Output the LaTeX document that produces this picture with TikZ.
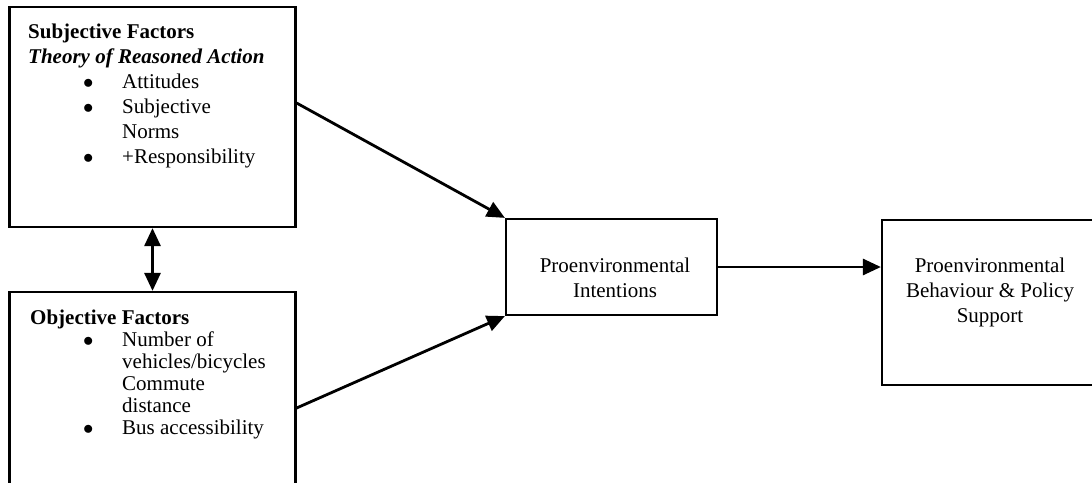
\documentclass[tikz,border=0pt]{standalone}
\usepackage{fontspec}
\setmainfont{Liberation Serif}
\usepackage{tikz}
\usetikzlibrary{shapes,arrows.meta,positioning}

\begin{document}
\begin{tikzpicture}[x=1pt,y=-1pt,
      factor/.style={
        rectangle,
        draw, line width=2.2pt,
        inner sep=0pt,
        minimum width=286pt
      },
      stage/.style={
        rectangle,
        draw, line width=2.2pt,
        inner sep=0pt,
        minimum height=96pt
      },
      boxtext/.style={
        inner sep=0pt,
        font=\fontsize{21}{25}\selectfont
      },
      arrow/.style={
        -{Triangle[length=18pt,width=16pt]},
        line width=2.8pt
      },
      twoway/.style={
        {Triangle[length=18pt,width=16pt]}-{Triangle[length=18pt,width=16pt]},
        line width=2.8pt
      }
    ]
      \useasboundingbox (0,0) rectangle (1092,482);
      \clip (0,0) rectangle (1092,482);
      % boxes
      \node[factor, minimum height=220pt] (subjective) at (152.5,117) {};
      \node[factor, minimum height=208pt] (objective) at (152.5,396) {};
      \node[stage, minimum width=211pt] (intentions) at (611.5,267) {};
      \node[stage, minimum width=213pt, minimum height=165pt] (behaviour) at (988.5,302.5) {};
      % texts
      \node[boxtext, anchor=base west] (subjtext) at (28,38) {%
        \begin{tabular}[t]{@{\hspace{55pt}}p{39pt}@{}l@{}}
          \multicolumn{2}{@{}l@{}}{\textbf{Subjective Factors}} \\
          \multicolumn{2}{@{}l@{}}{\textbf{\textit{Theory of Reasoned Action}}} \\
          $\bullet$ & Attitudes \\
          $\bullet$ & Subjective \\
                    & Norms \\
          $\bullet$ & +Responsibility
        \end{tabular}};
      \node[boxtext, font=\fontsize{21}{22}\selectfont, anchor=base west] (objtext) at (30,324) {%
        \begin{tabular}[t]{@{\hspace{53pt}}p{39pt}@{}l@{}}
          \multicolumn{2}{@{}l@{}}{\textbf{Objective Factors}} \\
          $\bullet$ & Number of \\
                    & vehicles/bicycles \\
                    & Commute \\
                    & distance \\
          $\bullet$ & Bus accessibility
        \end{tabular}};
      \node[boxtext, align=center] (intenttext) at (615,278) {Proenvironmental \\ Intentions};
      \node[boxtext, align=center] (behavtext) at (990,292) {Proenvironmental \\ Behaviour \& Policy \\ Support};
      % connectors
      \draw[twoway] (subjective.south) -- (objective.north);
      \draw[arrow] ([yshift=14pt]subjective.east) -- (intentions.north west);
      \draw[arrow] ([yshift=-12pt]objective.east) -- (intentions.south west);
      \draw[arrow] (intentions.east) -- (intentions.east -| behaviour.west);
    \end{tikzpicture}
\end{document}
